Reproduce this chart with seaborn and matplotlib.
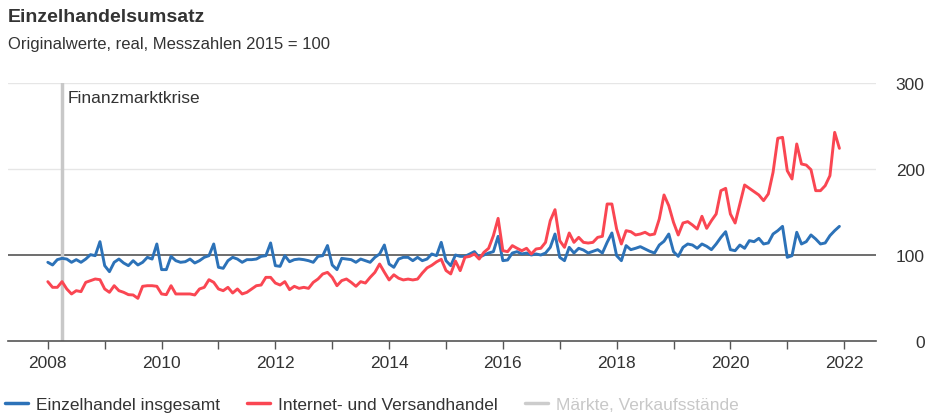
import numpy as np
import pandas as pd
import matplotlib
matplotlib.use("Agg")
import matplotlib.pyplot as plt
from matplotlib.lines import Line2D
import seaborn as sns

# monthly values Jan 2008 .. Dec 2021, Messzahlen 2015 = 100
einzelhandel = [
    91.5, 88.4, 94.6, 96.1, 95.3, 91.5, 94.6, 91.5, 95.3, 100.4, 99.2, 115.5,   # 2008
    87.6, 80.6, 91.5, 95.3, 90.7, 87.6, 93.4, 88.4, 91.5, 97.3, 95.3, 112.8,    # 2009
    83.0, 83.0, 98.4, 93.4, 91.5, 92.2, 95.3, 90.7, 93.4, 97.3, 99.2, 112.8,    # 2010
    85.7, 84.5, 93.4, 97.3, 95.3, 91.5, 94.6, 94.6, 95.3, 98.4, 99.2, 114.0,    # 2011
    87.6, 86.8, 99.2, 92.2, 94.6, 95.3, 94.6, 93.4, 91.5, 98.4, 99.2, 111.0,    # 2012
    88.4, 83.0, 96.1, 95.3, 94.6, 91.5, 95.3, 93.4, 91.5, 97.3, 101.2, 111.6,   # 2013
    89.5, 85.7, 95.3, 97.3, 97.3, 93.4, 97.3, 93.4, 95.3, 101.2, 99.2, 114.7,   # 2014
    93.4, 87.6, 100.0, 98.4, 98.4, 101.2, 103.9, 97.3, 100.0, 102.3, 103.9, 121.7,  # 2015
    93.4, 94.2, 102.3, 103.9, 101.2, 102.3, 100.0, 101.2, 100.0, 102.3, 108.9, 124.4,  # 2016
    97.3, 93.4, 108.9, 102.3, 107.8, 105.8, 102.3, 104.3, 106.2, 102.3, 114.7, 125.6,  # 2017
    99.2, 93.4, 110.9, 106.2, 107.8, 109.7, 107.0, 104.3, 102.3, 111.6, 116.0, 124.4,  # 2018
    103.9, 98.4, 108.9, 112.8, 111.6, 107.8, 112.8, 110.1, 106.2, 112.8, 120.5, 127.1,  # 2019
    106.2, 105.0, 111.6, 107.8, 116.7, 115.5, 119.4, 112.8, 114.0, 124.4, 128.3, 133.3,  # 2020
    97.3, 99.2, 126.4, 112.8, 115.5, 123.3, 118.6, 112.8, 114.0, 122.5, 128.3, 133.3,   # 2021
]
versandhandel = [
    69.0, 62.4, 62.4, 69.0, 60.5, 54.7, 58.5, 57.4, 68.2, 70.2, 72.1, 71.3,     # 2008
    60.5, 56.6, 64.3, 58.5, 56.6, 53.9, 53.5, 49.6, 63.6, 64.3, 64.3, 63.6,     # 2009
    54.7, 53.9, 64.3, 54.7, 54.7, 54.7, 54.7, 53.5, 60.5, 62.4, 71.3, 68.2,     # 2010
    60.5, 58.5, 62.4, 55.8, 60.5, 54.7, 56.6, 60.5, 64.3, 65.1, 74.0, 74.0,     # 2011
    67.4, 65.1, 69.0, 59.7, 63.6, 61.2, 62.4, 61.2, 68.2, 72.1, 77.9, 79.8,     # 2012
    74.0, 64.3, 70.2, 72.1, 68.2, 63.6, 69.0, 67.4, 74.0, 79.8, 89.5, 80.0,     # 2013
    71.0, 77.0, 73.0, 71.0, 72.0, 71.0, 72.0, 79.0, 85.0, 88.0, 92.0, 95.0,     # 2014
    82.0, 78.0, 93.0, 81.8, 97.3, 98.4, 101.2, 95.3, 103.1, 107.8, 122.5, 142.6,  # 2015
    105.0, 103.9, 110.9, 107.8, 105.0, 107.8, 101.2, 107.0, 107.8, 114.7, 139.9, 152.7,  # 2016
    116.7, 108.9, 125.6, 114.7, 120.5, 114.7, 113.9, 114.7, 120.5, 121.7, 159.3, 159.3,  # 2017
    130.2, 112.8, 128.3, 127.1, 123.3, 124.4, 126.4, 123.3, 124.4, 141.9, 169.8, 157.4,  # 2018
    138.0, 123.3, 137.2, 138.8, 134.9, 130.2, 145.0, 131.0, 139.9, 147.7, 174.8, 177.5,  # 2019
    147.7, 137.2, 159.3, 181.4, 177.5, 173.6, 169.8, 163.2, 171.0, 196.1, 235.7, 236.8,  # 2020
    198.0, 188.4, 229.1, 205.8, 204.6, 199.2, 174.8, 174.8, 180.6, 192.2, 242.6, 224.0,  # 2021
]
series_names = ["Einzelhandel insgesamt", "Internet- und Versandhandel"]
hidden_series = "Märkte, Verkaufsstände"
krise_datum = 2008.25
year_ticks = list(range(2008, 2023))

months = 2008 + np.arange(len(einzelhandel)) / 12
df = pd.DataFrame({
    "Zeit": np.concatenate([months, months]),
    "Wert": einzelhandel + versandhandel,
    "Reihe": [series_names[0]] * len(months) + [series_names[1]] * len(months),
})

sns.set_theme(style="white")
plt.rcParams["font.family"] = ["Liberation Sans", "DejaVu Sans"]

blue = "#2c72b8"
red = "#fa4652"
gray_line = "#c8c8c8"
text_col = "#333333"

fig = plt.figure(figsize=(9.28, 4.14), dpi=100)
ax = fig.add_axes([8 / 928, 1 - 342 / 414, 868 / 928, 258 / 414])

for v in [200, 300]:
    ax.axhline(v, color="#e6e6e6", lw=1, zorder=0)
ax.axhline(100, color="#555555", lw=1.2, zorder=1)
ax.axvline(krise_datum, color=gray_line, lw=2.5, zorder=1)
ax.text(krise_datum + 0.1, 292, "Finanzmarktkrise", fontsize=12.5, color=text_col,
        va="top", ha="left")

sns.lineplot(data=df, x="Zeit", y="Wert", hue="Reihe", palette=[blue, red],
             linewidth=2.1, ax=ax, legend=False, zorder=3)

ax.set_xlim(2007.3, 2022.56)
ax.set_ylim(0, 300)
ax.set_xlabel("")
ax.set_ylabel("")
ax.set_xticks(year_ticks)
ax.set_xticklabels([str(y) if y % 2 == 0 else "" for y in year_ticks])
ax.set_yticks([0, 100, 200, 300])
ax.yaxis.tick_right()
ax.tick_params(axis="y", length=0, pad=35, labelsize=12.5, labelcolor=text_col)
for lab in ax.get_yticklabels():
    lab.set_horizontalalignment("right")
ax.tick_params(axis="x", length=6, width=1, color="#555555", pad=4,
               labelsize=12.5, labelcolor=text_col, bottom=True)

for s in ["top", "left", "right"]:
    ax.spines[s].set_visible(False)
ax.spines["bottom"].set_color("#555555")
ax.spines["bottom"].set_linewidth(1.2)

fig.text(8 / 928, 1 - 18 / 414, "Einzelhandelsumsatz", fontsize=14, fontweight="bold",
         color=text_col, va="center", ha="left")
fig.text(8 / 928, 1 - 44 / 414, "Originalwerte, real, Messzahlen 2015 = 100", fontsize=12,
         color=text_col, va="center", ha="left")

handles = [Line2D([], [], color=blue, lw=2.5),
           Line2D([], [], color=red, lw=2.5),
           Line2D([], [], color="#cccccc", lw=2.5)]
leg = fig.legend(handles, series_names + [hidden_series], loc="center left",
                 bbox_to_anchor=(0.0, 1 - 405 / 414), ncol=3, frameon=False,
                 fontsize=12.5, handlelength=1.3, handletextpad=0.45, columnspacing=1.6,
                 borderaxespad=0, borderpad=0.3)
for t, c in zip(leg.get_texts(), [text_col, text_col, "#c8c8c8"]):
    t.set_color(c)

fig.savefig("out.png", dpi=100)
